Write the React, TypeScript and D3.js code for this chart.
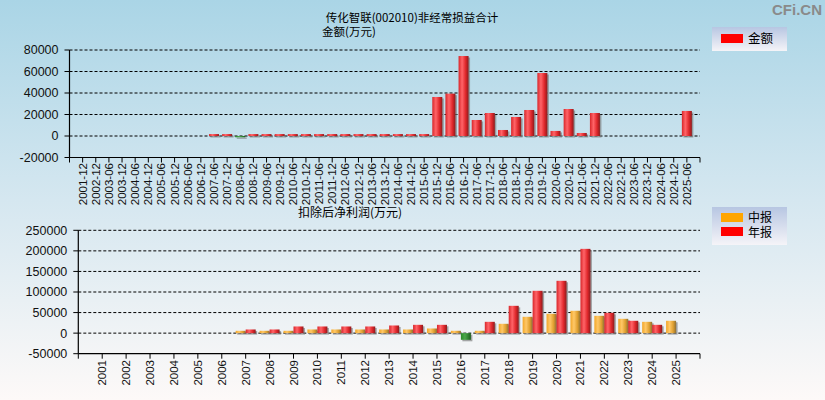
import React from "react";
import * as d3 from "d3";

const topCategories = [
  "2001-12","2002-12","2003-06","2003-12","2004-06","2004-12","2005-06","2005-12","2006-06","2006-12",
  "2007-06","2007-12","2008-06","2008-12","2009-06","2009-12","2010-06","2010-12","2011-06","2011-12",
  "2012-06","2012-12","2013-06","2013-12","2014-06","2014-12","2015-06","2015-12","2016-06","2016-12",
  "2017-06","2017-12","2018-06","2018-12","2019-06","2019-12","2020-06","2020-12","2021-06","2021-12",
  "2022-06","2022-12","2023-06","2023-12","2024-06","2024-12","2025-06",
];
const topValues: (number | null)[] = [
  null,null,null,null,null,null,null,null,null,null,
  1800,1800,-1200,1800,1800,1800,1800,1800,1800,1800,
  1800,1800,1800,1800,1800,1800,1800,36300,39400,74400,
  14900,21400,5600,17700,24200,58600,4700,25100,2800,21400,
  null,null,null,null,null,null,23300,
];
const topTicks = [80000, 60000, 40000, 20000, 0, -20000];

const years = [
  "2001","2002","2003","2004","2005","2006","2007","2008","2009","2010","2011","2012","2013",
  "2014","2015","2016","2017","2018","2019","2020","2021","2022","2023","2024","2025",
];
const midValues: (number | null)[] = [
  null,null,null,null,null,null,5700,5700,5700,8900,8900,8900,8900,
  8900,11300,5700,5700,22700,39700,47000,54300,42100,34800,27500,30000,
];
const annualValues: (number | null)[] = [
  null,null,null,null,null,null,8900,8900,16200,16200,16200,16200,18600,
  20200,20200,-16200,27500,66400,102900,127200,204900,49400,30000,20200,null,
];
const bottomTicks = [250000, 200000, 150000, 100000, 50000, 0, -50000];

const title = "传化智联(002010)非经常损益合计";
const topUnit = "金额(万元)";
const bottomUnit = "扣除后净利润(万元)";
const topLegend = ["金额"];
const bottomLegend = ["中报", "年报"];

const W = 825;
const H = 400;
const numFont = "'Liberation Sans', Arial, sans-serif";
const cjkFont = "'Noto Sans CJK SC', sans-serif";

function Bar({ x, w, y0, y1, fill, shadow = true }: { x: number; w: number; y0: number; y1: number; fill: string; shadow?: boolean }) {
  const top = Math.min(y0, y1);
  const h = Math.abs(y1 - y0);
  if (h <= 0) return null;
  return (
    <g>
      {shadow && <rect x={x + 1.5} y={top + 1.5} width={w} height={h} fill="#7a7a7a" opacity={0.65} />}
      <rect x={x} y={top} width={w} height={h} fill={fill} />
    </g>
  );
}

export default function App() {
  const tL = 69.5, tR = 700, tTop = 50, tBot = 157.5;
  const yTop = d3.scaleLinear().domain([-20000, 80000]).range([tBot, tTop]);
  const xTop = d3.scaleLinear().domain([0, topCategories.length + 1]).range([tL, tR]);

  const bL = 78.3, bR = 700, bTop = 230.3, bBot = 353.7;
  const yBot = d3.scaleLinear().domain([-50000, 250000]).range([bBot, bTop]);
  const xBot = d3.scaleLinear().domain([0, years.length + 1]).range([bL, bR]);

  const barW = 10;

  return (
    <svg width={W} height={H} style={{ position: "absolute", left: 0, top: 0 }} xmlns="http://www.w3.org/2000/svg">
      <defs>
        <linearGradient id="bg" x1="0" y1="0" x2="0" y2="1">
          <stop offset="0%" stopColor="#aad5e6" />
          <stop offset="50%" stopColor="#d5e7f0" />
          <stop offset="100%" stopColor="#fdf9f8" />
        </linearGradient>
        <linearGradient id="legbg" x1="0" y1="0" x2="0" y2="1">
          <stop offset="0%" stopColor="#b7c6e2" />
          <stop offset="100%" stopColor="#f5f4f8" />
        </linearGradient>
        <linearGradient id="red" x1="0" y1="0" x2="1" y2="0">
          <stop offset="0%" stopColor="#d8262a" />
          <stop offset="35%" stopColor="#ff6468" />
          <stop offset="70%" stopColor="#e0282c" />
          <stop offset="100%" stopColor="#8e1a1c" />
        </linearGradient>
        <linearGradient id="orange" x1="0" y1="0" x2="1" y2="0">
          <stop offset="0%" stopColor="#f2a628" />
          <stop offset="35%" stopColor="#ffc868" />
          <stop offset="70%" stopColor="#e0a030" />
          <stop offset="100%" stopColor="#8e7034" />
        </linearGradient>
        <linearGradient id="green" x1="0" y1="0" x2="1" y2="0">
          <stop offset="0%" stopColor="#2a8a2a" />
          <stop offset="40%" stopColor="#4aa84a" />
          <stop offset="100%" stopColor="#1c5e1c" />
        </linearGradient>
      </defs>
      <rect x={0} y={0} width={W} height={H} fill="url(#bg)" />

      <text x={822} y={15} textAnchor="end" fontFamily={numFont} fontWeight="bold" fontSize={15} fill="#8a8a8a">CFi.CN</text>

      <text x={412} y={21.5} textAnchor="middle" fontFamily={cjkFont} fontSize={11.5} fill="#000">{title}</text>
      <text x={322} y={36} fontFamily={cjkFont} fontSize={11.5} fill="#000">{topUnit}</text>
      <text x={298} y={217} fontFamily={cjkFont} fontSize={12} fill="#000">{bottomUnit}</text>

      {topTicks.filter((t) => t > -20000).map((t) => (
        <line key={"tg" + t} x1={tL} x2={tR} y1={yTop(t)} y2={yTop(t)} stroke="#000" strokeWidth={1} strokeDasharray="3,2" />
      ))}
      {topTicks.map((t) => (
        <g key={"ty" + t}>
          <line x1={tL - 5} x2={tL} y1={yTop(t)} y2={yTop(t)} stroke="#000" />
          <text x={tL - 11} y={yTop(t)} dy="0.35em" textAnchor="end" fontFamily={numFont} fontSize={12.5} fill="#111">{t}</text>
        </g>
      ))}
      {topValues.map((v, i) => {
        if (v === null) return null;
        const cx = xTop(i + 1);
        return (
          <Bar key={"tb" + i} x={cx - barW / 2} w={barW} y0={yTop(0)} y1={yTop(v)} fill={v < 0 ? "url(#green)" : "url(#red)"} />
        );
      })}
      <line x1={tL} x2={tL} y1={tTop} y2={tBot} stroke="#000" strokeWidth={1.2} />
      <line x1={tL} x2={tR} y1={tBot} y2={tBot} stroke="#000" strokeWidth={1.2} />
      {d3.range(0, topCategories.length + 2).map((k) => (
        <line key={"tt" + k} x1={xTop(k)} x2={xTop(k)} y1={tBot} y2={tBot + 5} stroke="#000" />
      ))}
      {topCategories.map((c, i) => {
        const cx = xTop(i + 1);
        return (
          <text key={"tx" + c} transform={`translate(${cx},${163}) rotate(-90)`} dy="0.35em" textAnchor="end" fontFamily={numFont} fontSize={11.5} fill="#111">{c}</text>
        );
      })}

      <rect x={712} y={27} width={75} height={24} fill="url(#legbg)" />
      <rect x={721} y={34} width={22} height={9} fill="#ff0000" />
      <text x={748} y={43} fontFamily={cjkFont} fontSize={12.5} fill="#000">{topLegend[0]}</text>

      {bottomTicks.filter((t) => t > -50000).map((t) => (
        <line key={"bg" + t} x1={bL} x2={bR} y1={yBot(t)} y2={yBot(t)} stroke="#000" strokeWidth={1} strokeDasharray="3,2" />
      ))}
      {bottomTicks.map((t) => (
        <g key={"by" + t}>
          <line x1={bL - 5} x2={bL} y1={yBot(t)} y2={yBot(t)} stroke="#000" />
          <text x={bL - 11} y={yBot(t)} dy="0.35em" textAnchor="end" fontFamily={numFont} fontSize={12.5} fill="#111">{t}</text>
        </g>
      ))}
      {years.map((yr, i) => {
        const cx = xBot(i + 1);
        const m = midValues[i];
        const a = annualValues[i];
        return (
          <g key={"bb" + yr}>
            {m !== null && <Bar x={cx - barW} w={barW} y0={yBot(0)} y1={yBot(m)} fill={m < 0 ? "url(#green)" : "url(#orange)"} />}
            {a !== null && <Bar x={cx} w={barW} y0={yBot(0)} y1={yBot(a)} fill={a < 0 ? "url(#green)" : "url(#red)"} />}
          </g>
        );
      })}
      <line x1={bL} x2={bL} y1={bTop} y2={bBot} stroke="#000" strokeWidth={1.2} />
      <line x1={bL} x2={bR} y1={bBot} y2={bBot} stroke="#000" strokeWidth={1.2} />
      {d3.range(0, years.length + 2).map((k) => (
        <line key={"bt" + k} x1={xBot(k)} x2={xBot(k)} y1={bBot} y2={bBot + 5} stroke="#000" />
      ))}
      {years.map((yr, i) => {
        const cx = xBot(i + 1);
        return (
          <text key={"bx" + yr} transform={`translate(${cx},${360}) rotate(-90)`} dy="0.35em" textAnchor="end" fontFamily={numFont} fontSize={11.5} fill="#111">{yr}</text>
        );
      })}

      <rect x={712} y={207} width={75} height={38} fill="url(#legbg)" />
      <rect x={721} y={213} width={22} height={9} fill="#ffa500" />
      <text x={748} y={222} fontFamily={cjkFont} fontSize={12} fill="#000">{bottomLegend[0]}</text>
      <rect x={721} y={227} width={22} height={9} fill="#ff0000" />
      <text x={748} y={236.5} fontFamily={cjkFont} fontSize={12} fill="#000">{bottomLegend[1]}</text>
    </svg>
  );
}
